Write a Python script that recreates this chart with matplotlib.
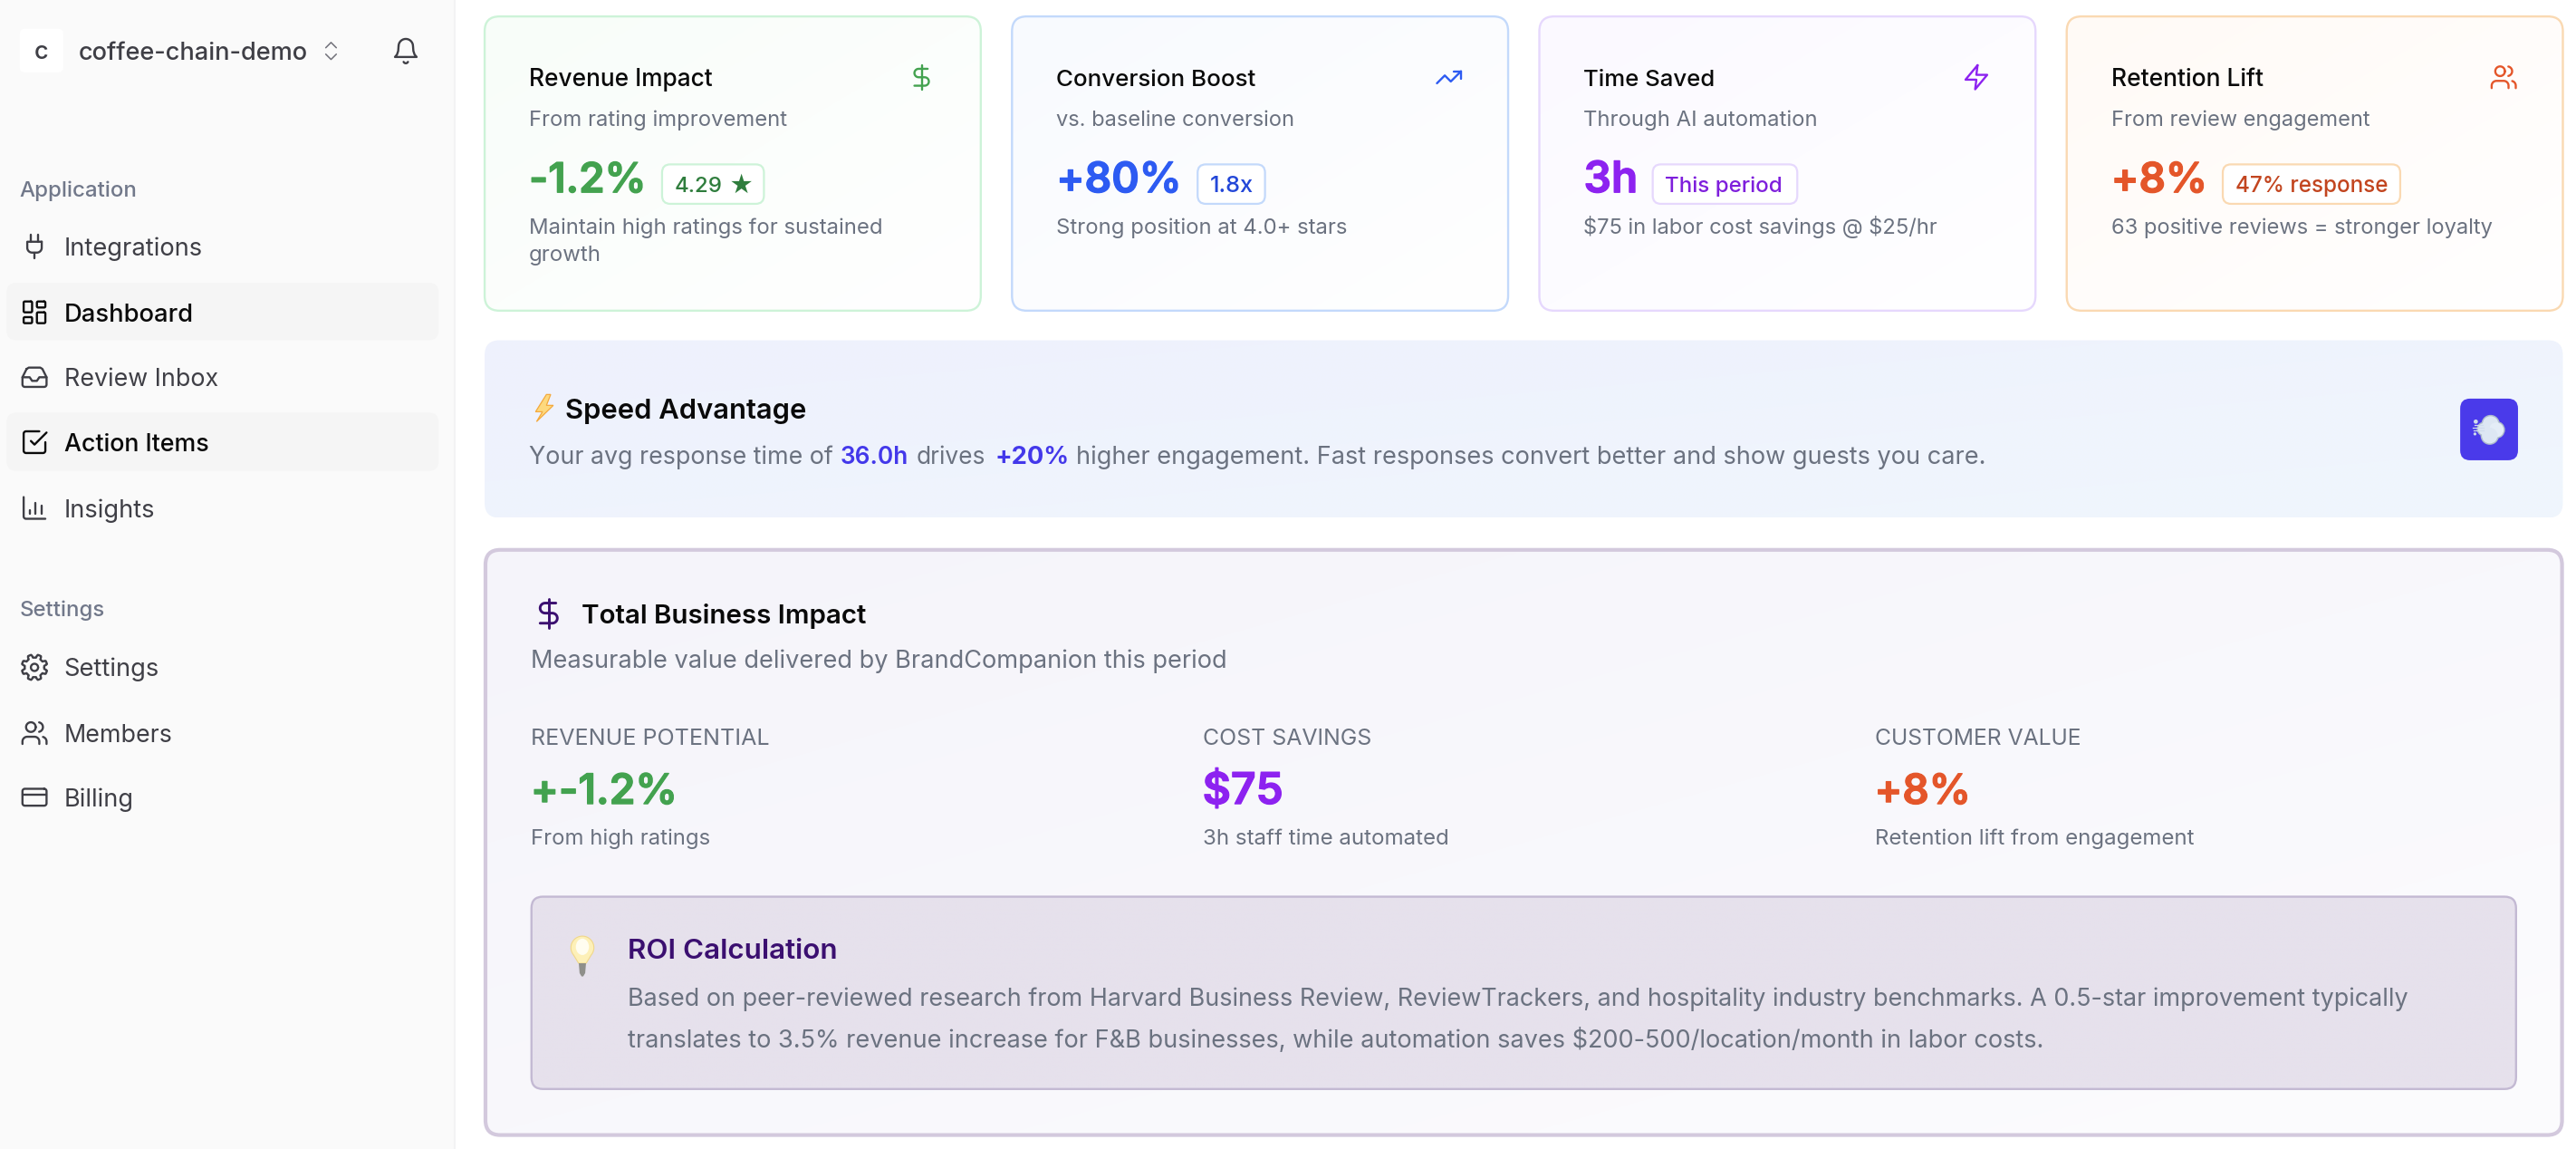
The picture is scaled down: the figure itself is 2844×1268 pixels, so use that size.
import math
import numpy as np
import matplotlib
matplotlib.use("Agg")
import matplotlib.pyplot as plt
import matplotlib.patheffects as pe
from matplotlib.patches import FancyBboxPatch, Circle, Ellipse, Polygon

plt.rcParams['font.family'] = ['Inter', 'DejaVu Sans']

# ---------- content ----------
ORG_NAME = "coffee-chain-demo"
NAV_APP = ["Integrations", "Dashboard", "Review Inbox", "Action Items", "Insights"]
NAV_SET = ["Settings", "Members", "Billing"]
CARD_TITLES = ["Revenue Impact", "Conversion Boost", "Time Saved", "Retention Lift"]
CARD_SUBS = ["From rating improvement", "vs. baseline conversion", "Through AI automation", "From review engagement"]
CARD_VALUES = ["-1.2%", "+80%", "3h", "+8%"]
CARD_BADGES = ["4.29", "1.8x", "This period", "47% response"]
CARD_NOTES = [["Maintain high ratings for sustained", "growth"], ["Strong position at 4.0+ stars"],
              ["$75 in labor cost savings @ $25/hr"], ["63 positive reviews = stronger loyalty"]]
IMPACT_LABELS = ["REVENUE POTENTIAL", "COST SAVINGS", "CUSTOMER VALUE"]
IMPACT_VALUES = ["+-1.2%", "$75", "+8%"]
IMPACT_NOTES = ["From high ratings", "3h staff time automated", "Retention lift from engagement"]
SPEED_RUNS = ["Your avg response time of", "36.0h", "drives", "+20%",
              "higher engagement. Fast responses convert better and show guests you care."]
ROI_LINES = ["Based on peer-reviewed research from Harvard Business Review, ReviewTrackers, and hospitality industry benchmarks. A 0.5-star improvement typically",
             "translates to 3.5% revenue increase for F&B businesses, while automation saves $200-500/location/month in labor costs."]

W, H = 1568, 699
fig = plt.figure(figsize=(28.44, 12.68), dpi=100, facecolor='white')
ax = fig.add_axes([0, 0, 1, 1])
ax.set_xlim(0, W); ax.set_ylim(H, 0); ax.axis('off')
R = fig.canvas.get_renderer()
K = 2844 / W
GREY = '#6b7280'; INK = '#0a0a0a'; NAVC = '#3f3f46'


def T(x, y, s, w=None, size=14, color=INK, weight='normal', bold=0, ha='left', z=10):
    """Text on a baseline; w is the width to fit, in layout units."""
    t = ax.text(x, y, s, fontsize=size * K * 0.72, color=color, fontweight=weight, ha=ha, va='baseline',
                zorder=z, parse_math=False)
    if w:
        e = t.get_window_extent(R).width / K
        t.set_fontsize(t.get_fontsize() * w / e)
    if bold:
        t.set_path_effects([pe.withStroke(linewidth=bold, foreground=color)])
    return t


def box(x0, y0, x1, y1, r, fc, ec='none', lw=0, z=2):
    p = FancyBboxPatch((x0, y0), x1 - x0, y1 - y0, boxstyle=f"round,pad=0,rounding_size={r}",
                       fc=fc, ec=ec, lw=lw, zorder=z)
    ax.add_patch(p)
    return p


def gradbox(x0, y0, x1, y1, r, c0, c1, ec, lw, z=2):
    p = box(x0, y0, x1, y1, r, 'none', ec, lw, z + 0.5)
    a, b = np.array(matplotlib.colors.to_rgb(c0)), np.array(matplotlib.colors.to_rgb(c1))
    u, v = np.meshgrid(np.linspace(0, 1, 256), np.linspace(0, 1, 256))
    f = ((u + v) / 2)[..., None]
    im = ax.imshow(a + (b - a) * f, extent=(x0, x1, y1, y0), aspect='auto', zorder=z, interpolation='bilinear')
    im.set_clip_path(p)
    ax.set_xlim(0, W); ax.set_ylim(H, 0)


def arc(cx, cy, r, a0, a1, n=14):
    return [(cx + r * math.cos(math.radians(a)), cy + r * math.sin(math.radians(a))) for a in np.linspace(a0, a1, n)]


def rrect(x, y, w, h, r):
    return (arc(x + w - r, y + r, r, -90, 0) + arc(x + w - r, y + h - r, r, 0, 90) +
            arc(x + r, y + h - r, r, 90, 180) + arc(x + r, y + r, r, 180, 270) + [(x + w - r, y)])


def circ(cx, cy, r):
    return arc(cx, cy, r, 0, 360, 40)


def icon(cx, cy, size, color, lw, paths):
    for pts in paths:
        p = np.array(pts, dtype=float)
        ax.plot(cx + (p[:, 0] - 12) * size / 24, cy + (p[:, 1] - 12) * size / 24, color=color, lw=lw,
                solid_capstyle='round', solid_joinstyle='round', zorder=11)


gear = []
for a in np.linspace(0, 360, 121):
    rr = 9.4 + 1.3 * np.clip(3 * math.cos(math.radians(8 * (a - 22.5))), -1, 1)
    gear.append((12 + rr * math.cos(math.radians(a)), 12 + rr * math.sin(math.radians(a))))

USERS = [[(16, 21), (16, 19)] + arc(12, 19, 4, 0, -90) + arc(6, 19, 4, -90, -180) + [(2, 21)], circ(9, 7, 4),
         [(22, 21), (22, 19)] + arc(18, 19, 4, 0, -75), arc(15, 7, 4, -78, 78)]
DOLLAR = [[(12, 2), (12, 22)], [(17, 5), (9.5, 5)] + arc(9.5, 8.5, 3.5, -90, -270) + [(14.5, 12)] + arc(14.5, 15.5, 3.5, -90, 90) + [(6, 19)]]
ICONS = {
    'plug': [[(12, 22), (12, 17)], [(9, 8), (9, 2)], [(15, 8), (15, 2)],
             [(18, 8), (18, 13)] + arc(14, 13, 4, 0, 90) + arc(10, 13, 4, 90, 180) + [(6, 8), (18, 8)]],
    'dash': [rrect(3, 3, 7, 9, 1), rrect(14, 3, 7, 5, 1), rrect(14, 12, 7, 9, 1), rrect(3, 16, 7, 5, 1)],
    'inbox': [[(22, 12), (16, 12), (14, 15), (10, 15), (8, 12), (2, 12)],
              [(5.45, 5.11), (2, 12), (2, 18)] + arc(4, 18, 2, 180, 90) + arc(20, 18, 2, 90, 0) +
              [(22, 12), (18.55, 5.11), (16.76, 4), (7.24, 4), (5.45, 5.11)]],
    'check': [[(9, 11), (12, 14), (22, 4)],
              [(21, 12), (21, 19)] + arc(19, 19, 2, 0, 90) + arc(5, 19, 2, 90, 180) + arc(5, 5, 2, 180, 270) + [(16, 3)]],
    'chart': [[(3, 3), (3, 19)] + arc(5, 19, 2, 180, 90) + [(21, 21)], [(18, 17), (18, 10)], [(13, 17), (13, 8)], [(8, 17), (8, 14)]],
    'gear': [gear, circ(12, 12, 3)],
    'users': USERS,
    'card': [rrect(2, 5, 20, 14, 2), [(2, 10), (22, 10)]],
    'bell': [arc(12, 8, 6, 180, 360) + [(18.3, 12), (19.3, 15), (21, 17), (3, 17), (4.7, 15), (5.7, 12), (6, 8)], arc(12, 20.2, 2, 155, 25)],
    'updown': [[(7, 15), (12, 20), (17, 15)], [(7, 9), (12, 4), (17, 9)]],
    'dollar': DOLLAR,
    'trend': [[(22, 7), (13.5, 15.5), (8.5, 10.5), (2, 17)], [(16, 7), (22, 7), (22, 13)]],
    'zap': [[(13, 2), (3, 14), (12, 14), (11, 22), (21, 10), (12, 10), (13, 2)]],
}

# ---------- sidebar ----------
ax.add_patch(plt.Rectangle((0, 0), 276.5, H, fc='#fafafa', ec='none', zorder=1))
ax.plot([277, 277], [0, H], color='#f3f3f4', lw=1.5, zorder=1)
box(12, 17.5, 38.5, 44, 3, 'white')
T(25.2, 36, 'c', size=15, color=NAVC, ha='center', weight=500)
T(48, 36.5, ORG_NAME, w=140.5, color=NAVC, weight=500)
icon(201.5, 31, 15.5, '#71717a', 1.1, ICONS['updown'])
icon(247, 31, 17.6, NAVC, 1.7, ICONS['bell'])
T(12, 119.5, "Application", w=72, color='#71788a', weight=500)
box(4, 172, 267, 207, 6, '#f5f5f5')
box(4, 251, 267, 286.5, 6, '#f5f5f5')
app_keys = ['plug', 'dash', 'inbox', 'check', 'chart']
app_y = [150, 190, 229.5, 269, 309]
app_w = [84.5, 79, 93.5, 88.5, 55.5]
active = [False, True, False, True, False]
for name, key, y, w, on in zip(NAV_APP, app_keys, app_y, app_w, active):
    c = INK if on else NAVC
    icon(21, y, 17.6, c, 1.7, ICONS[key])
    T(39, y + 5.5, name, w=w, color=c, weight=500 if on else 'normal')
T(12, 375, "Settings", w=52, color='#71788a', weight=500)
set_keys = ['gear', 'users', 'card']
set_y = [406, 446, 485]
set_w = [58, 66, 42.5]
for name, key, y, w in zip(NAV_SET, set_keys, set_y, set_w):
    icon(21, y, 17.6, NAVC, 1.7, ICONS[key])
    T(39, y + 5.5, name, w=w, color=NAVC)

# ---------- metric cards ----------
card_x = [295, 616, 937, 1258]
card_bg = ['#f8fdf9', '#f8fafe', '#fbf9ff', '#fffaf6']
card_ec = ['#cdf3d8', '#c3d9fb', '#e6d8fd', '#fad9b2']
val_c = ['#43a24f', '#2d5bf2', '#8d22f0', '#e4562a']
bad_c = ['#2f7d3d', '#2347d8', '#7e1fdc', '#c2451f']
icons_k = ['dollar', 'trend', 'zap', 'users']
title_w = [112, 122, 80.5, 93]
sub_w = [157, 145, 142.5, 157.5]
val_w = [71, 76, 33, 58.5]
badge_x = [403, 729, 1006, 1353]
badge_x1 = [465, 770, 1094, 1461]
badge_tx = [410.4, 736.5, 1013.5, 1360.5]
badge_w = [29, 26.5, 72, 93]
note_w = [[215.5, 44], [177], [216], [232]]
for i in range(4):
    x = card_x[i]
    gradbox(x, 10, x + 302, 189, 9, card_bg[i], '#ffffff', card_ec[i], 1.7)
    T(x + 27, 52.5, CARD_TITLES[i], w=title_w[i], weight=500)
    T(x + 27, 76.5, CARD_SUBS[i], w=sub_w[i], color=GREY)
    T(x + 27, 117, CARD_VALUES[i], w=val_w[i], color=val_c[i], weight=600, bold=0.9)
    box(badge_x[i], 100, badge_x1[i], 124, 5, 'white', card_ec[i], 1.6, z=3)
    T(badge_tx[i], 117, CARD_BADGES[i], w=badge_w[i], color=bad_c[i], weight=500)
    for j, line in enumerate(CARD_NOTES[i]):
        T(x + 27, 142.5 + j * 16.5, line, w=note_w[i][j], color=GREY)
    icon(x + 266, 47, 17.6, val_c[i], 1.7, ICONS[icons_k[i]])
T(443.4, 117.5, "★", w=15, color=bad_c[0])

# ---------- speed advantage ----------
gradbox(295, 207, 1560, 315, 9, '#eef1fd', '#f0f6fd', 'none', 0)
ax.add_patch(Polygon([(332.6, 240), (326, 250.5), (330.2, 250.5), (326.6, 256.5), (336.8, 246.6), (332.6, 246.6), (335.2, 240)],
                     fc='#fdd97e', ec='#f4a93c', lw=0.9, zorder=11))
T(344, 254.5, "Speed Advantage", w=147, weight=600)
run_x = [322, 511.7, 558, 605.4, 655]
run_w = [184.7, 41.3, 42, 45.2, 553]
run_c = [GREY, '#4338ea', GREY, '#4338ea', GREY]
run_wt = ['normal', 600, 'normal', 700, 'normal']
for s, x, w, c, wt in zip(SPEED_RUNS, run_x, run_w, run_c, run_wt):
    T(x, 282.5, s, w=w, color=c, weight=wt)
box(1497.5, 242.5, 1532.7, 280, 6, '#4a3aea', z=5)
for (px, py, pr, col) in [(1516, 258, 5.6, '#aebccd'), (1519.5, 261.5, 5.3, '#aebccd'), (1515.5, 265, 5.6, '#aebccd'),
                          (1512, 261, 4.4, '#aebccd'), (1516, 258, 4.8, '#dde7f3'), (1519.5, 261.5, 4.5, '#e4edf7'),
                          (1515.5, 265, 4.8, '#dde7f3'), (1512, 261, 3.6, '#dde7f3')]:
    ax.add_patch(Circle((px, py), pr, fc=col, ec='none', zorder=6))
for (px, py, pr) in [(1507, 256.5, 1.3), (1506.5, 264, 0.9)]:
    ax.add_patch(Circle((px, py), pr, fc='#cfdcec', ec='none', zorder=6))
for (x0, x1, y) in [(1505, 1512, 260), (1505.5, 1512, 262), (1506, 1511, 258.5)]:
    ax.plot([x0, x1], [y, y], color='#cfdcec', lw=0.9, zorder=6)

# ---------- total business impact ----------
gradbox(295.5, 334.5, 1559.5, 690.5, 9, '#f5f4fa', '#fcfcfe', '#d3c9dd', 3)
icon(334, 373, 21, '#3b0f70', 2.1, ICONS['dollar'])
T(354, 379, "Total Business Impact", w=174, weight=600)
T(323, 406.5, "Measurable value delivered by BrandCompanion this period", w=423, color=GREY)
col_x = [323, 732, 1141]
lab_w = [145, 103, 126]
iv_w = [89, 49, 58.5]
iv_c = ['#43a24f', '#8d22f0', '#e4562a']
in_w = [109, 150, 194]
for i in range(3):
    T(col_x[i], 453, IMPACT_LABELS[i], w=lab_w[i], color=GREY)
    T(col_x[i], 489, IMPACT_VALUES[i], w=iv_w[i], color=iv_c[i], weight=600, bold=0.9)
    T(col_x[i], 514, IMPACT_NOTES[i], w=in_w[i], color=GREY)

# ---------- ROI ----------
gradbox(323.5, 545.5, 1531.5, 662.5, 7, '#e6e1ec', '#e6e1ec', '#c3b9d3', 1.7, z=4)
ax.add_patch(Polygon([(352.2, 586)] + arc(354.5, 576.5, 7, 140, 400, 40) + [(356.8, 586)],
                     fc='#fdf0b8', ec='#f0d78a', lw=0.8, zorder=11))
ax.add_patch(Ellipse((354.5, 576), 8, 10, fc='#fffdf0', ec='none', zorder=12))
ax.add_patch(Polygon([(352.3, 586), (356.7, 586), (356.2, 592), (355, 594), (354, 594), (352.8, 592)], fc='#8f8f8a', ec='none', zorder=11))
T(382, 583, "ROI Calculation", w=128, color='#3b0f70', weight=600)
T(382, 612, ROI_LINES[0], w=1084, color=GREY)
T(382, 637, ROI_LINES[1], w=861.5, color=GREY)

fig.savefig("out.png", dpi=100, facecolor='white')
